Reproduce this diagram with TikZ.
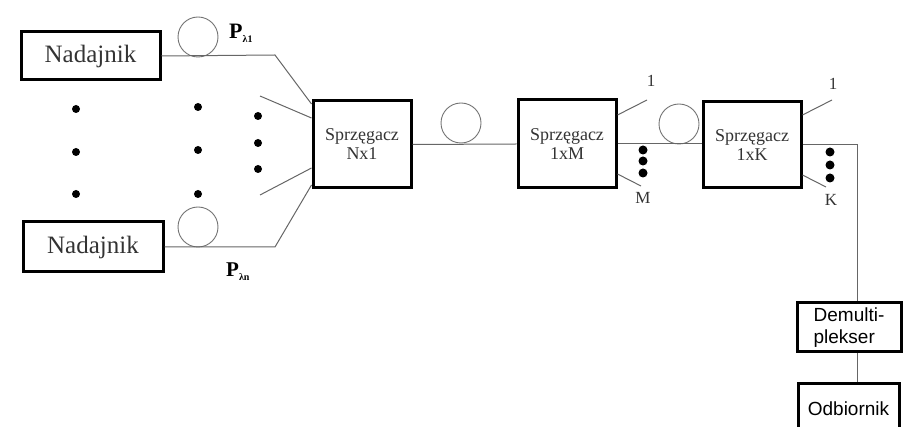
\documentclass[tikz,border=0pt]{standalone}
\usepackage{fontspec}
\setmainfont{Liberation Serif}
\setsansfont{Liberation Sans}
\begin{document}
\begin{tikzpicture}[x=1pt,y=-1pt,
  box/.style={draw=black,line width=3pt,inner sep=0pt,align=center},
  fiber/.style={draw=black!60,line width=1pt},
  loop/.style={draw=black!55,line width=0.9pt,circle,minimum size=40pt,inner sep=0pt},
  dot/.style={circle,fill=black,minimum size=8pt,inner sep=0pt},
  bigdot/.style={circle,fill=black,minimum size=9pt,inner sep=0pt},
  lab/.style={font=\fontsize{17}{18}\selectfont,inner sep=0pt,text=black!80}]
\useasboundingbox (0,0) rectangle (903,427);
\clip (0,0) rectangle (903,427);
% transmitters
\node[box,minimum width=139pt,minimum height=48pt,font=\fontsize{25}{30}\selectfont,text=black!80] (tx1) at (90.5,56) {Nadajnik};
\node[box,minimum width=140pt,minimum height=50pt,font=\fontsize{25}{30}\selectfont,text=black!80] (tx2) at (93,247) {Nadajnik};
% couplers
\node[box,minimum width=98pt,minimum height=87pt,font=\fontsize{18}{19}\selectfont,text=black!80] (cN) at (362,144.5) {Sprzęgacz\\Nx1};
\node[box,minimum width=98pt,minimum height=88pt,font=\fontsize{18}{19}\selectfont,text=black!80] (cM) at (567,144) {Sprzęgacz\\1xM};
\node[box,minimum width=98pt,minimum height=86pt,font=\fontsize{18}{19}\selectfont,text=black!80] (cK) at (752,145) {Sprzęgacz\\1xK};
% demux & receiver
\node[box,minimum width=104pt,minimum height=49pt,font=\sffamily\fontsize{19}{22}\selectfont,align=left] (dmx) at (849,327.5) {Demulti-\\plekser};
\node[box,minimum width=101pt,minimum height=50pt,anchor=north] (rx) at (848.5,382) {};
\node[font=\sffamily\fontsize{19}{22}\selectfont] (rxt) at (848.5,409) {Odbiornik};
% fiber loops
\node[loop] (l1) at (198,37) {};
\node[loop] (l2) at (198,227) {};
\node[loop] (l3) at (461,123) {};
\node[loop] (l4) at (679,124) {};
% bend points
\coordinate (b1) at (275,55);
\coordinate (b2) at (275,247);
\coordinate (i1) at (260,96);
\coordinate (i2) at (260,195);
\coordinate (m1) at (647,100);
\coordinate (mM) at (641,186);
\coordinate (k1) at (832,100);
\coordinate (kK) at (826,187);
\coordinate (out) at (857,145);
% fibers
\draw[fiber] (tx1.east) -- (b1) -- (cN.west |- 0,104);
\draw[fiber] (i1) -- (cN.west |- 0,118);
\draw[fiber] (i2) -- (cN.west |- 0,168);
\draw[fiber] (tx2.east) -- (b2) -- (cN.west |- 0,185);
\draw[fiber] (cN.east) -- (cM.west);
\draw[fiber] (cM.east |- 0,115) -- (m1);
\draw[fiber] (cM.east |- 0,174) -- (mM);
\draw[fiber] (cM.east) -- (cK.west |- cM.east);
\draw[fiber] (cK.east |- 0,115) -- (k1);
\draw[fiber] (cK.east |- 0,175) -- (kK);
\draw[fiber] (cK.east) -- (out) -- (out |- dmx.north);
\draw[fiber] (out |- dmx.south) -- (out |- rx.north);
% dots
\foreach \n/\x/\y in {a1/76/109,a2/76/152,a3/76/194,b1/198/107,b2/198/150,b3/198/194,c1/258/116,c2/258/143,c3/258/169}
  \node[dot] (d\n) at (\x,\y) {};
\foreach \n/\y in {1/150,2/161,3/173}
  \node[bigdot] (dm\n) at (643,\y) {};
\foreach \n/\y in {1/152,2/165,3/178}
  \node[bigdot] (dk\n) at (830,\y) {};
% labels
\node[anchor=base west,inner sep=0pt,font=\bfseries\fontsize{22}{24}\selectfont] (p1) at (229,39) {P\raisebox{-4pt}{\fontsize{10}{10}\selectfont λ1}};
\node[anchor=base west,inner sep=0pt,font=\bfseries\fontsize{21}{24}\selectfont] (p2) at (226,277) {P\raisebox{-4pt}{\fontsize{10}{10}\selectfont λn}};
\node[lab] (t1) at (651,81) {1};
\node[lab] (tM) at (643,198) {M};
\node[lab] (t2) at (833,84) {1};
\node[lab] (tK) at (831,200) {K};
\end{tikzpicture}
\end{document}
